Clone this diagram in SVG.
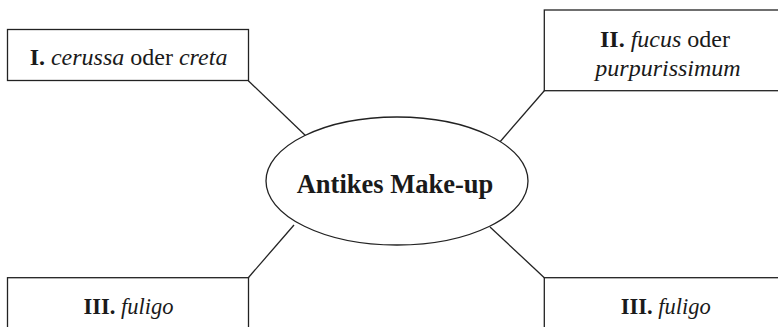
<svg xmlns="http://www.w3.org/2000/svg" width="778" height="327" viewBox="0 0 778 327">
<style>
.box{fill:#fff;stroke:#222;stroke-width:1.3}
.ln{stroke:#222;stroke-width:1.3;fill:none}
text{font-family:"Liberation Serif","DejaVu Serif",serif;font-size:24px;fill:#1a1a1a;text-anchor:middle}
.b{font-weight:bold}
.i{font-style:italic}
.c{font-size:26.5px}
.s{font-size:22.5px}
</style>
<rect width="778" height="327" fill="#fff"/>
<g id="connectors">
<line class="ln" x1="248.3" y1="80.7" x2="307" y2="137"/>
<line class="ln" x1="544.3" y1="90.7" x2="499" y2="143"/>
<line class="ln" x1="248.3" y1="277.7" x2="294" y2="225"/>
<line class="ln" x1="544.3" y1="277.7" x2="490" y2="227"/>
</g>
<g id="center">
<ellipse class="box" cx="397" cy="181" rx="131" ry="64"/>
<text x="395" y="193" class="b c">Antikes Make-up</text>
</g>
<g id="n1">
<rect class="box" x="7.5" y="29.5" width="241" height="51"/>
<text x="128.5" y="65"><tspan class="b">I.</tspan> <tspan class="i">cerussa</tspan> oder <tspan class="i">creta</tspan></text>
</g>
<g id="n2">
<rect class="box" x="544.3" y="10" width="250" height="80.7"/>
<text x="665" y="47"><tspan class="b">II.</tspan> <tspan class="i">fucus</tspan> oder</text>
<text x="668" y="76" class="i">purpurissimum</text>
</g>
<g id="n3">
<rect class="box" x="7.5" y="277.7" width="241" height="60"/>
<text x="128.5" y="314" class="s"><tspan class="b">III.</tspan> <tspan class="i">fuligo</tspan></text>
</g>
<g id="n4">
<rect class="box" x="544.3" y="277.7" width="250" height="60"/>
<text x="665.7" y="314" class="s"><tspan class="b">III.</tspan> <tspan class="i">fuligo</tspan></text>
</g>
</svg>
